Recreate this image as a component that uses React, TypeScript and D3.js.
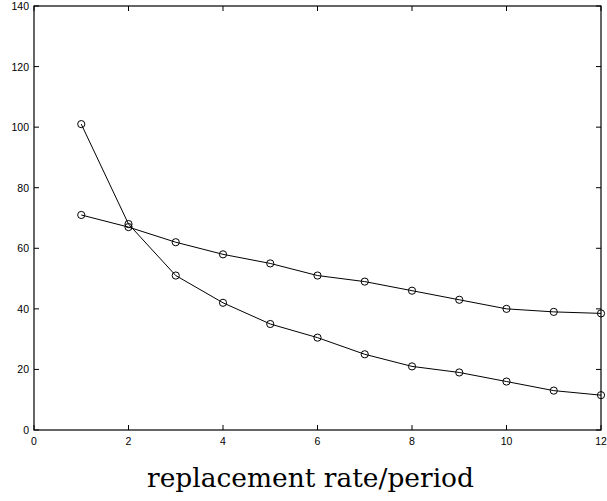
import React from "react";
import * as d3 from "d3";

const xValues = [1, 2, 3, 4, 5, 6, 7, 8, 9, 10, 11, 12];
const seriesA = [101, 68, 51, 42, 35, 30.5, 25, 21, 19, 16, 13, 11.5];
const seriesB = [71, 67, 62, 58, 55, 51, 49, 46, 43, 40, 39, 38.5];
const xTicks = [0, 2, 4, 6, 8, 10, 12];
const yTicks = [0, 20, 40, 60, 80, 100, 120, 140];
const xLabel = "replacement rate/period";

const W = 607, H = 501;
const L = 34, R = 601, T = 6, B = 430;

export default function App() {
  const x = d3.scaleLinear().domain([0, 12]).range([L, R]);
  const y = d3.scaleLinear().domain([0, 140]).range([B, T]);
  const line = d3.line<number>().x((_, i) => x(xValues[i])).y((d) => y(d));
  const tk = 5;
  const font = "'Liberation Sans', Arial, sans-serif";
  return (
    <svg width={W} height={H} style={{ position: "absolute", left: 0, top: 0, background: "#fff" }}>
      <rect x={0} y={0} width={W} height={H} fill="#fff" />
      {[seriesA, seriesB].map((s, k) => (
        <g key={k}>
          <path d={line(s) || ""} fill="none" stroke="#000" strokeWidth={1} />
          {s.map((v, i) => (
            <circle key={i} cx={x(xValues[i])} cy={y(v)} r={3.6} fill="none" stroke="#000" strokeWidth={1} />
          ))}
        </g>
      ))}
      <rect x={L} y={T} width={R - L} height={B - T} fill="none" stroke="#000" strokeWidth={1.2} />
      {xTicks.map((t) => (
        <g key={"x" + t}>
          <line x1={x(t)} x2={x(t)} y1={B} y2={B - tk} stroke="#000" />
          <line x1={x(t)} x2={x(t)} y1={T} y2={T + tk} stroke="#000" />
          <text x={x(t)} y={445} fontSize={10.5} fontFamily={font} textAnchor="middle">{t}</text>
        </g>
      ))}
      {yTicks.map((t) => (
        <g key={"y" + t}>
          <line x1={L} x2={L + tk} y1={y(t)} y2={y(t)} stroke="#000" />
          <line x1={R} x2={R - tk} y1={y(t)} y2={y(t)} stroke="#000" />
          <text x={29} y={y(t) + 4} fontSize={10.5} fontFamily={font} textAnchor="end">{t}</text>
        </g>
      ))}
      <text x={310.5} y={487} fontSize={26} fontFamily="'DejaVu Serif', 'Liberation Serif', serif" textAnchor="middle" textLength={327} lengthAdjust="spacingAndGlyphs">{xLabel}</text>
    </svg>
  );
}
